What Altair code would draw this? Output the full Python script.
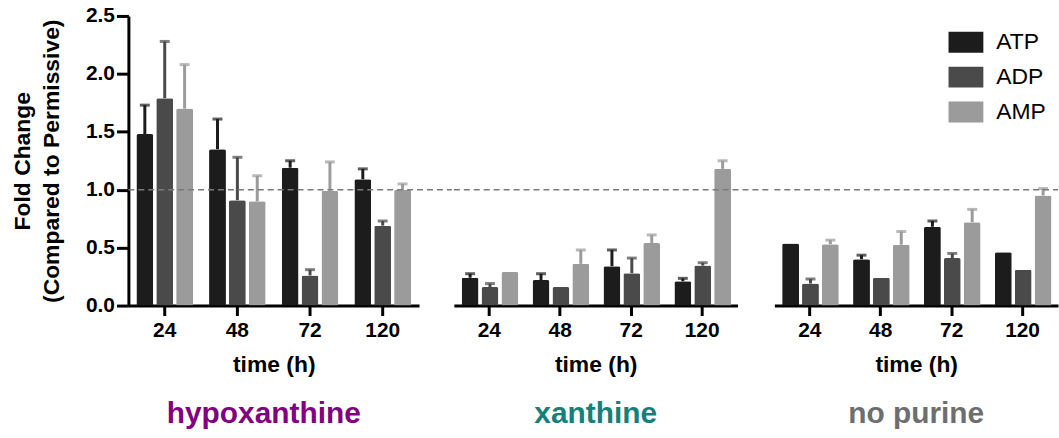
import altair as alt
import pandas as pd

# Sampling times (h) and measured nucleotides
times = ["24", "48", "72", "120"]
nucleotides = ["ATP", "ADP", "AMP"]
conditions = ["hypoxanthine", "xanthine", "no purine"]
condition_colors = ["#800080", "#148078", "#6e6e6e"]
bar_colors = ["#1c1c1c", "#4a4a4a", "#9b9b9b"]

# Fold change (mean) per condition, nucleotide, time
hypoxanthine_atp = [1.48, 1.35, 1.19, 1.09]
hypoxanthine_adp = [1.79, 0.91, 0.26, 0.69]
hypoxanthine_amp = [1.70, 0.90, 0.99, 1.00]
xanthine_atp = [0.24, 0.22, 0.34, 0.21]
xanthine_adp = [0.16, 0.16, 0.28, 0.345]
xanthine_amp = [0.29, 0.36, 0.54, 1.18]
nopurine_atp = [0.535, 0.40, 0.68, 0.46]
nopurine_adp = [0.19, 0.24, 0.41, 0.31]
nopurine_amp = [0.53, 0.525, 0.72, 0.95]

# Upper error (SEM) per condition, nucleotide, time
hypoxanthine_atp_err = [0.25, 0.26, 0.06, 0.09]
hypoxanthine_adp_err = [0.49, 0.37, 0.05, 0.04]
hypoxanthine_amp_err = [0.38, 0.22, 0.25, 0.05]
xanthine_atp_err = [0.035, 0.055, 0.14, 0.025]
xanthine_adp_err = [0.03, 0.0, 0.13, 0.025]
xanthine_amp_err = [0.0, 0.12, 0.07, 0.07]
nopurine_atp_err = [0.0, 0.035, 0.05, 0.0]
nopurine_adp_err = [0.04, 0.0, 0.04, 0.0]
nopurine_amp_err = [0.035, 0.115, 0.11, 0.06]

series = {
    "hypoxanthine": {
        "ATP": (hypoxanthine_atp, hypoxanthine_atp_err),
        "ADP": (hypoxanthine_adp, hypoxanthine_adp_err),
        "AMP": (hypoxanthine_amp, hypoxanthine_amp_err),
    },
    "xanthine": {
        "ATP": (xanthine_atp, xanthine_atp_err),
        "ADP": (xanthine_adp, xanthine_adp_err),
        "AMP": (xanthine_amp, xanthine_amp_err),
    },
    "no purine": {
        "ATP": (nopurine_atp, nopurine_atp_err),
        "ADP": (nopurine_adp, nopurine_adp_err),
        "AMP": (nopurine_amp, nopurine_amp_err),
    },
}

rows = []
for cond, by_nuc in series.items():
    for nuc, (means, errs) in by_nuc.items():
        for t, m, e in zip(times, means, errs):
            rows.append({"condition": cond, "nucleotide": nuc, "time": t,
                         "mean": m, "err": e, "upper": m + e})
df = pd.DataFrame(rows)

FONT = "Liberation Sans"
widths = [292, 285, 285]
gaps = [33, 35, 0]          # space to the next panel, bridged by the dashed line
title_dx = [-10, 0, 0]

color_map = dict(zip(conditions, condition_colors))
nuc_scale = alt.Scale(domain=nucleotides, range=bar_colors)


def panel(i, cond):
    width = widths[i]
    first = i == 0
    last = i == len(conditions) - 1
    base = alt.Chart(df).transform_filter(alt.datum.condition == cond)

    x = alt.X("time:N", sort=times,
              scale=alt.Scale(paddingInner=0.22, paddingOuter=0.11),
              axis=alt.Axis(title="time (h)", labelAngle=0, labelFontSize=21,
                            labelFontWeight="bold", labelFont=FONT,
                            titleFontSize=23, titleFontWeight="bold", titleFont=FONT,
                            titlePadding=13, tickSize=10, tickWidth=3,
                            domainWidth=3, domainColor="black", tickColor="black",
                            labelPadding=4, labelColor="black", titleColor="black"))
    xo = alt.XOffset("nucleotide:N", sort=nucleotides,
                     scale=alt.Scale(paddingInner=0.15, paddingOuter=0))
    yscale = alt.Scale(domain=[0, 2.5], nice=False)
    if first:
        yaxis = alt.Axis(title=["Fold Change", "(Compared to Permissive)"],
                         values=[0, 0.5, 1.0, 1.5, 2.0, 2.5], format=".1f",
                         labelFontSize=21, labelFontWeight="bold", labelFont=FONT,
                         titleFontSize=23, titleFontWeight="bold", titleFont=FONT,
                         titleLineHeight=29, titlePadding=22, tickSize=12,
                         tickWidth=3, domainWidth=3, domainColor="black",
                         tickColor="black", labelPadding=2, grid=False,
                         labelColor="black", titleColor="black")
    else:
        yaxis = None

    if last:
        legend = alt.Legend(title=None, orient="none", legendX=175, legendY=9,
                            labelFontSize=23, labelFont=FONT, labelColor="black",
                            labelOffset=13, symbolType="M-1,-0.6H1V0.6H-1Z",
                            symbolSize=1225, symbolStrokeWidth=0, symbolOpacity=1,
                            rowPadding=5)
    else:
        legend = None

    bars = base.mark_bar(cornerRadiusTopLeft=2, cornerRadiusTopRight=2).encode(
        x=x, xOffset=xo,
        y=alt.Y("mean:Q", scale=yscale, axis=yaxis),
        color=alt.Color("nucleotide:N", sort=nucleotides, scale=nuc_scale,
                        legend=legend),
    )
    errs = base.transform_filter(alt.datum.err > 0)
    stems = errs.mark_rule(strokeWidth=3).encode(
        x=x, xOffset=xo, y="mean:Q", y2="upper:Q",
        color=alt.Color("nucleotide:N", sort=nucleotides, scale=nuc_scale, legend=None),
    )
    caps = errs.mark_tick(orient="horizontal", size=10, thickness=3).encode(
        x=x, xOffset=xo, y="upper:Q",
        color=alt.Color("nucleotide:N", sort=nucleotides, scale=nuc_scale, legend=None),
    )
    reference = alt.Chart(pd.DataFrame({"ref": [1.0]})).mark_rule(
        strokeDash=[6, 4], color="#7a7a7a", strokeWidth=1.5).encode(
        x=alt.value(0), x2=alt.value(width + gaps[i]),
        y=alt.Y("ref:Q", scale=yscale),
    )
    return alt.layer(bars, stems, caps, reference).properties(
        width=width, height=291,
        title=alt.TitleParams(cond, orient="bottom", color=color_map[cond],
                              fontSize=30, fontWeight="bold", font=FONT,
                              offset=23, dx=title_dx[i]),
    )


panels = [panel(i, c) for i, c in enumerate(conditions)]

chart = alt.hconcat(*panels, spacing=0).resolve_scale(
    color="independent", y="shared"
).properties(
    padding={"left": 11, "top": 4, "right": 0, "bottom": 0},
    background="white",
).configure_view(stroke=None)

chart.save("out.html", embed_options={"renderer": "svg", "actions": False})
